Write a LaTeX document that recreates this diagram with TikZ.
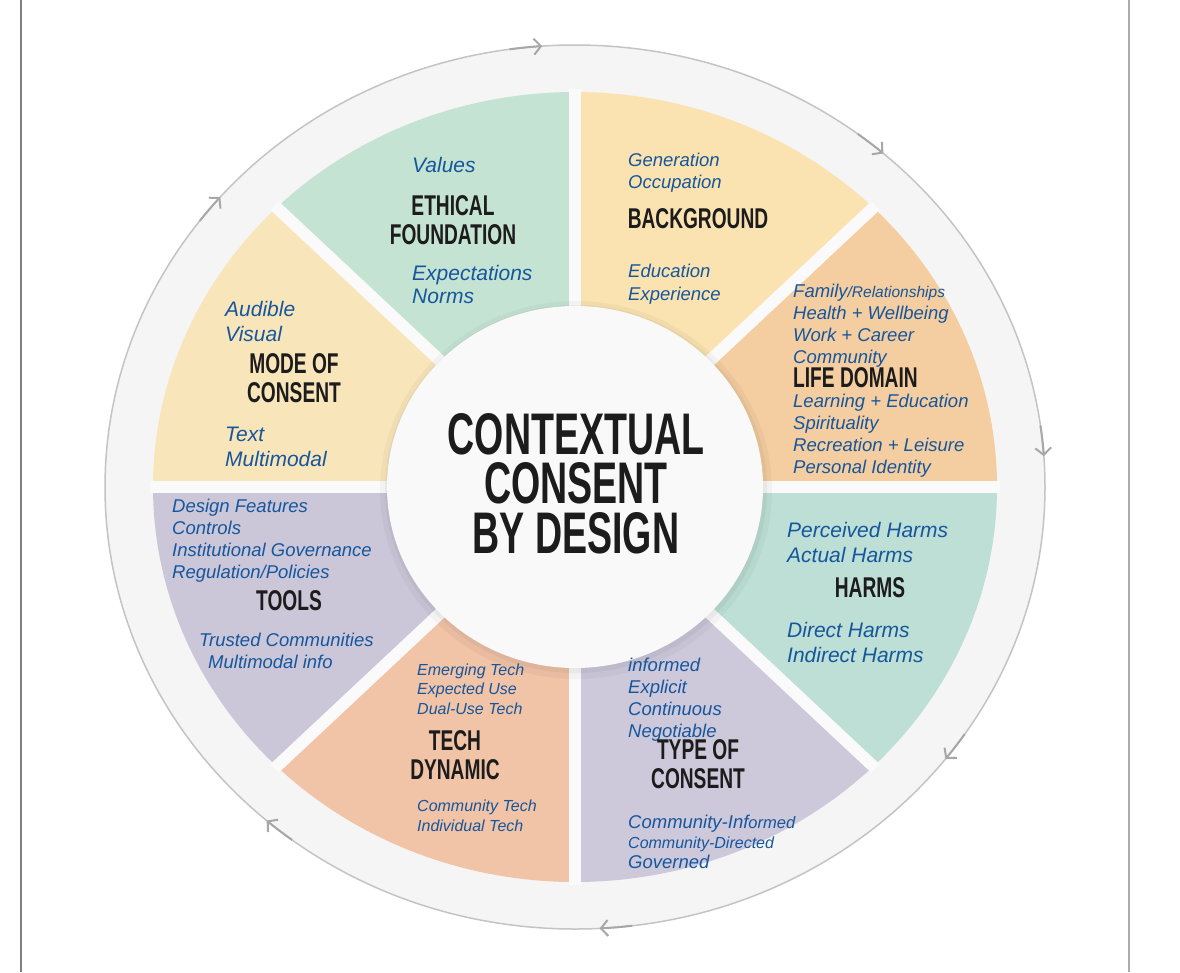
\documentclass[tikz,border=0pt]{standalone}
\usepackage{fontspec}
\setmainfont{Liberation Sans}
\newfontfamily\headfont[FakeStretch=0.67]{Liberation Sans}
\newfontfamily\titlefont[FakeStretch=0.64]{Liberation Sans}
\usetikzlibrary{arrows.meta,positioning}

\definecolor{ringgray}{HTML}{F5F5F5}
\definecolor{ringline}{HTML}{C4C4C4}
\definecolor{gapwhite}{HTML}{FAFAFA}
\definecolor{hubwhite}{HTML}{F9F9F9}
\definecolor{ethcol}{HTML}{C5E3D3}
\definecolor{backcol}{HTML}{FAE3B0}
\definecolor{lifecol}{HTML}{F4CDA0}
\definecolor{harmcol}{HTML}{BDDFD5}
\definecolor{typecol}{HTML}{CDC9DB}
\definecolor{techcol}{HTML}{F1C3A7}
\definecolor{toolcol}{HTML}{CBC7D9}
\definecolor{modecol}{HTML}{F9E5BA}
\definecolor{itemblue}{RGB}{22,86,156}
\definecolor{headblack}{HTML}{1C1C1C}

\begin{document}
\begin{tikzpicture}[x=1pt,y=1pt,
        item/.style 2 args={text=itemblue, font=\itshape\fontsize{#1}{#2}\selectfont,
            anchor=north west, align=left, inner sep=0pt},
        head/.style={text=headblack, font=\headfont\bfseries\fontsize{28.6}{29}\selectfont,
            anchor=north, align=center, inner sep=0pt},
        ringarrow/.style={draw=ringline!85!black, line width=2pt,
            -{Straight Barb[length=7pt,width=16pt]}}]
        \useasboundingbox (0,0) rectangle (1180,-972);
        \fill[white] (0,0) rectangle (1180,-972);
        % page edges
        \draw[gray, line width=2pt] (20.5,0) -- (20.5,-972);
        \draw[gray!65, line width=2pt] (1128.5,0) -- (1128.5,-972);

        \coordinate (c) at (575,-487);
        % outer ring
        \fill[ringgray] (c) ellipse [x radius=470, y radius=442];
        \draw[ringline, line width=1.5pt] (c) ellipse [x radius=470, y radius=442];
        \foreach \a in {94,49,4,-38,-87,-131,139}
            \draw[ringarrow] (c) ++(\a+4:470 and 442)
                arc [start angle=\a+4, end angle=\a, x radius=470, y radius=442];

        % segments
        \foreach \a/\col in {0/lifecol,45/backcol,90/ethcol,135/modecol,
                180/toolcol,225/techcol,270/typecol,315/harmcol}
            \fill[\col] (c) -- ++(\a:422 and 395)
                arc [start angle=\a, end angle=\a+45, x radius=422, y radius=395] -- cycle;
        \foreach \a in {0,45,...,315}
            \draw[gapwhite, line width=12pt] (c) -- ++(\a:425 and 398);

        % hub
        \fill[black, opacity=0.03] (c) ++(1,-3) ellipse [x radius=196, y radius=189];
        \fill[black, opacity=0.04] (c) ++(1,-2) ellipse [x radius=191, y radius=184];
        \fill[hubwhite] (c) ellipse [x radius=188, y radius=181];
        \node[text=headblack, font=\titlefont\bfseries\fontsize{58.7}{49.5}\selectfont,
            anchor=north, align=center, inner sep=0pt] (title) at (576,-413)
            {CONTEXTUAL\\CONSENT\\BY DESIGN};

        % ethical foundation
        \node[item={21}{23}] (eth-top) at (412,-157) {Values};
        \node[head] (eth) at (453,-195.5) {ETHICAL\\FOUNDATION};
        \node[item={21}{23}] (eth-bot) at (412,-265) {Expectations\\Norms};

        % background
        \node[item={18.5}{22}] (back-top) at (628,-152.5) {Generation\\Occupation};
        \node[head] (back) at (698,-208.5) {BACKGROUND};
        \node[item={18.5}{23}] (back-bot) at (628,-263.5) {Education\\Experience};

        % life domain
        \node[item={18.5}{22}] (life-top) at (793,-283.5)
            {Family{\fontsize{15.5}{22}\selectfont/Relationships}\\Health + Wellbeing\\Work + Career\\Community};
        \node[head, anchor=north west] (life) at (793,-367.5) {LIFE DOMAIN};
        \node[item={18.5}{22}] (life-bot) at (793,-393.5)
            {Learning + Education\\Spirituality\\Recreation + Leisure\\Personal Identity};

        % harms
        \node[item={21}{25}] (harm-top) at (787,-521.7) {Perceived Harms\\Actual Harms};
        \node[head] (harm) at (870,-577.5) {HARMS};
        \node[item={21}{25}] (harm-bot) at (787,-621.7) {Direct Harms\\Indirect Harms};

        % type of consent
        \node[item={18.5}{22}] (type-top) at (628,-657.5) {informed\\Explicit\\Continuous\\Negotiable};
        \node[head] (type) at (698,-739.5) {TYPE OF\\CONSENT};
        \node[item={18.5}{20}] (type-bot) at (628,-814.5)
            {Community-Inf{\fontsize{16.5}{20}\selectfont ormed}\\{\fontsize{16}{20}\selectfont Community-Directed}\\Governed};

        % tech dynamic
        \node[item={16}{19.5}] (tech-top) at (417,-663.3) {Emerging Tech\\Expected Use\\Dual-Use Tech};
        \node[head] (tech) at (455,-730.5) {TECH\\DYNAMIC};
        \node[item={16}{20}] (tech-bot) at (417,-799.3) {Community Tech\\Individual Tech};

        % tools
        \node[item={18.5}{22}] (tool-top) at (172,-498.5)
            {Design Features\\Controls\\Institutional Governance\\Regulation/Policies};
        \node[head] (tool) at (289,-590.5) {TOOLS};
        \node[item={18.5}{22}] (tool-mid) at (199,-632.5) {Trusted Communities};
        \node[item={18.5}{22}] (tool-bot) at (208,-654.5) {Multimodal info};

        % mode of consent
        \node[item={21}{25}] (mode-top) at (225,-300.7) {Audible\\Visual};
        \node[head] (mode) at (294,-353.5) {MODE OF\\CONSENT};
        \node[item={21}{25}] (mode-bot) at (225,-426.7) {Text\\Multimodal};
    \end{tikzpicture}
\end{document}
